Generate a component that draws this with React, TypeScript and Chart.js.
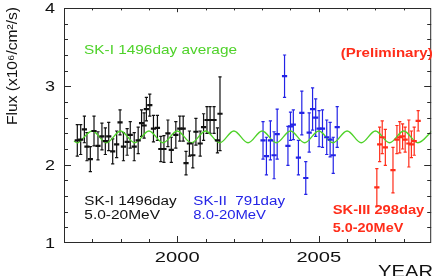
import React, { useEffect, useRef } from "react";
import { Chart, registerables } from "chart.js";

Chart.register(...registerables);

// ---------------- data ----------------
const X_MIN = 1996;
const X_MAX = 2008.97;
const Y_MIN = 1;
const Y_MAX = 4;

const sk1Years = [1996.47, 1996.59, 1996.72, 1996.81, 1996.93, 1997.06, 1997.2, 1997.34, 1997.46, 1997.58,
  1997.72, 1997.86, 1997.98, 1998.1, 1998.23, 1998.34, 1998.48, 1998.62, 1998.74, 1998.83,
  1998.91, 1999.03, 1999.16, 1999.3, 1999.42, 1999.53, 1999.67, 1999.79, 1999.95, 2000.09,
  2000.21, 2000.31, 2000.43, 2000.55, 2000.66, 2000.81, 2000.93, 2001.05, 2001.16, 2001.3,
  2001.42, 2001.51];
const sk1Flux = [2.31, 2.32, 2.45, 2.23, 2.07, 2.43, 2.24, 2.36, 2.3, 2.36,
  2.17, 2.26, 2.54, 2.23, 2.29, 2.38, 2.23, 2.31, 2.53, 2.5,
  2.71, 2.76, 2.46, 2.47, 2.2, 2.2, 2.4, 2.19, 2.38, 2.46,
  2.46, 2.02, 2.27, 2.12, 2.42, 2.27, 2.48, 2.57, 2.57, 2.57,
  2.31, 2.65];
const sk1Err = [0.2, 0.19, 0.17, 0.18, 0.16, 0.19, 0.18, 0.17, 0.17, 0.18,
  0.16, 0.17, 0.16, 0.18, 0.17, 0.17, 0.18, 0.17, 0.17, 0.16,
  0.15, 0.14, 0.17, 0.16, 0.16, 0.17, 0.17, 0.16, 0.17, 0.16,
  0.16, 0.15, 0.16, 0.16, 0.17, 0.16, 0.17, 0.17, 0.17, 0.17,
  0.16, 0.47];

const sk2Years = [2003.03, 2003.15, 2003.29, 2003.42, 2003.53, 2003.79, 2003.91, 2004.0, 2004.1, 2004.28,
  2004.4, 2004.54, 2004.66, 2004.78, 2004.89, 2005.01, 2005.13, 2005.28, 2005.4, 2005.51, 2005.65];
const sk2Flux = [2.31, 2.11, 2.31, 2.12, 2.39, 3.13, 2.24, 2.49, 2.51, 2.09,
  2.66, 1.83, 2.41, 2.71, 2.6, 2.46, 2.46, 2.35, 2.32, 2.12, 2.48];
const sk2Err = [0.24, 0.24, 0.25, 0.3, 0.32, 0.27, 0.25, 0.18, 0.19, 0.22,
  0.28, 0.21, 0.25, 0.27, 0.24, 0.23, 0.24, 0.22, 0.22, 0.23, 0.26];

const sk3Years = [2007.05, 2007.15, 2007.24, 2007.35, 2007.62, 2007.76, 2007.86, 2007.96, 2008.05, 2008.18,
  2008.27, 2008.37, 2008.51];
const sk3Flux = [1.71, 2.26, 2.35, 2.22, 1.93, 2.32, 2.35, 2.36, 2.32, 2.27, 2.26, 2.3, 2.56];
const sk3Err = [0.24, 0.22, 0.21, 0.23, 0.29, 0.18, 0.2, 0.16, 0.16, 0.3, 0.17, 0.18, 0.13];

// SK-I average with seasonal (1/r^2) variation: peaks in January, troughs in July
const avgYears = [1996.35, 1996.5, 1997, 1997.5, 1998, 1998.5, 1999, 1999.5, 2000, 2000.5,
  2001, 2001.5, 2002, 2002.5, 2003, 2003.5, 2004, 2004.5, 2005, 2005.5,
  2006, 2006.5, 2007, 2007.5, 2008, 2008.5, 2009];
const avgFlux = [2.3, 2.28, 2.43, 2.28, 2.43, 2.28, 2.43, 2.28, 2.43, 2.28,
  2.43, 2.28, 2.43, 2.28, 2.43, 2.28, 2.43, 2.28, 2.43, 2.28,
  2.43, 2.28, 2.43, 2.28, 2.43, 2.28, 2.43];

const yTickValues = [1.2, 1.4, 1.6, 1.8, 2, 2.2, 2.4, 2.6, 2.8, 3, 3.2, 3.4, 3.6, 3.8];
const yLabelValues = [1, 2, 3, 4];
const xTickYears = [1997, 1998, 1999, 2000, 2001, 2002, 2003, 2004, 2005, 2006, 2007, 2008];
const xLabelYears = [2000, 2005];

// ---------------- styles ----------------
const BLACK = "#111111";
const BLUE = "#2323e6";
const RED = "#ff2d1a";
const GREEN = "#4fd22a";
const FONT = "'Liberation Sans', Arial, Helvetica, sans-serif";

const toPoints = (xs: number[], ys: number[]) => xs.map((x, i) => ({ x, y: ys[i] }));

function fitText(ctx: CanvasRenderingContext2D, text: string, font: string, color: string,
  left: number, right: number, baseline: number) {
  ctx.save();
  ctx.font = font;
  ctx.fillStyle = color;
  ctx.textAlign = "left";
  ctx.textBaseline = "alphabetic";
  const w = ctx.measureText(text).width;
  ctx.translate(left, baseline);
  ctx.scale((right - left) / w, 1);
  ctx.fillText(text, 0, 0);
  ctx.restore();
}

function stretchText(ctx: CanvasRenderingContext2D, text: string, font: string, color: string,
  x: number, baseline: number, sx: number, align: CanvasTextAlign) {
  ctx.save();
  ctx.font = font;
  ctx.fillStyle = color;
  ctx.textAlign = align;
  ctx.textBaseline = "alphabetic";
  ctx.translate(x, baseline);
  ctx.scale(sx, 1);
  ctx.fillText(text, 0, 0);
  ctx.restore();
}

const decorPlugin = {
  id: "skDecor",
  beforeDatasetsDraw(chart: any) {
    const ctx = chart.ctx as CanvasRenderingContext2D;
    const ys = chart.scales.y;
    chart.data.datasets.forEach((ds: any, i: number) => {
      if (!ds.errors) return;
      const meta = chart.getDatasetMeta(i);
      ctx.save();
      ctx.strokeStyle = ds.borderColor;
      ctx.lineWidth = 1.2;
      meta.data.forEach((pt: any, j: number) => {
        const v = ds.data[j].y;
        const e = ds.errors[j];
        const y1 = ys.getPixelForValue(v + e);
        const y2 = ys.getPixelForValue(v - e);
        const x = pt.x;
        ctx.beginPath();
        ctx.moveTo(x, y1);
        ctx.lineTo(x, y2);
        ctx.moveTo(x - 1.6, y1);
        ctx.lineTo(x + 1.6, y1);
        ctx.moveTo(x - 1.6, y2);
        ctx.lineTo(x + 1.6, y2);
        ctx.stroke();
      });
      ctx.restore();
    });
  },
  afterDraw(chart: any) {
    const ctx = chart.ctx as CanvasRenderingContext2D;
    const { left, right, top, bottom } = chart.chartArea;
    const xs = chart.scales.x;
    const ys = chart.scales.y;

    // frame
    ctx.save();
    ctx.strokeStyle = "#2a2a2a";
    ctx.lineWidth = 1;
    ctx.strokeRect(left + 0.5, top + 0.5, right - left - 1, bottom - top - 1);

    // y ticks (inward, both sides)
    const drawY = (v: number, len: number) => {
      const y = Math.round(ys.getPixelForValue(v)) + 0.5;
      ctx.beginPath();
      ctx.moveTo(left, y);
      ctx.lineTo(left + len, y);
      ctx.moveTo(right, y);
      ctx.lineTo(right - len, y);
      ctx.stroke();
    };
    yTickValues.forEach((v) => drawY(v, yLabelValues.includes(v) ? 7 : 4));
    // x ticks (inward, bottom and top)
    xTickYears.forEach((yr) => {
      const len = xLabelYears.includes(yr) ? 7 : 4;
      const x = Math.round(xs.getPixelForValue(yr)) + 0.5;
      ctx.beginPath();
      ctx.moveTo(x, bottom);
      ctx.lineTo(x, bottom - len);
      ctx.moveTo(x, top);
      ctx.lineTo(x, top + len * 0.6);
      ctx.stroke();
    });
    ctx.restore();

    // tick labels
    yLabelValues.forEach((v) => {
      stretchText(ctx, String(v), `15px ${FONT}`, BLACK, left - 9, ys.getPixelForValue(v) + 5, 1.2, "right");
    });
    xLabelYears.forEach((yr) => {
      stretchText(ctx, String(yr), `15.5px ${FONT}`, BLACK, xs.getPixelForValue(yr), 262, 1.3, "center");
    });
    fitText(ctx, "YEAR", `16px ${FONT}`, BLACK, 378, 433, 276.5);

    // y axis title (rotated)
    ctx.save();
    ctx.font = `14.5px ${FONT}`;
    ctx.fillStyle = BLACK;
    const title = "Flux (x10\u2076/cm\u00B2/s)";
    const tw = ctx.measureText(title).width;
    ctx.translate(16.5, 125);
    ctx.rotate(-Math.PI / 2);
    ctx.scale(118 / tw, 1);
    ctx.fillText(title, 0, 0);
    ctx.restore();

    // annotations
    fitText(ctx, "SK-I 1496day average", `13px ${FONT}`, GREEN, 84, 237, 54.3);
    fitText(ctx, "(Preliminary)", `bold 13px ${FONT}`, RED, 340.7, 432.7, 56.5);
    fitText(ctx, "SK-I 1496day", `12.5px ${FONT}`, BLACK, 84.3, 176.7, 205);
    fitText(ctx, "5.0-20MeV", `12.5px ${FONT}`, BLACK, 84.3, 160, 218.5);
    fitText(ctx, "SK-II  791day", `12.5px ${FONT}`, BLUE, 193.3, 285, 205);
    fitText(ctx, "8.0-20MeV", `12.5px ${FONT}`, BLUE, 193.3, 266, 218.5);
    fitText(ctx, "SK-III 298day", `bold 12.5px ${FONT}`, RED, 332.7, 424.3, 214);
    fitText(ctx, "5.0-20MeV", `bold 12.5px ${FONT}`, RED, 332.7, 403.3, 231.7);
  },
};

export default function App() {
  const canvasRef = useRef<HTMLCanvasElement | null>(null);

  useEffect(() => {
    const canvas = canvasRef.current;
    if (!canvas) return;
    const pointDs = (label: string, xs: number[], ys: number[], errs: number[], color: string) => ({
      type: "scatter" as const,
      label,
      data: toPoints(xs, ys),
      errors: errs,
      borderColor: color,
      backgroundColor: color,
      pointStyle: "line",
      pointRadius: 2.6,
      pointBorderWidth: 2.2,
      pointHoverRadius: 2.6,
      showLine: false,
    });
    const chart = new Chart(canvas, {
      type: "scatter",
      data: {
        datasets: [
          pointDs("SK-I", sk1Years, sk1Flux, sk1Err, BLACK) as any,
          pointDs("SK-II", sk2Years, sk2Flux, sk2Err, BLUE) as any,
          pointDs("SK-III", sk3Years, sk3Flux, sk3Err, RED) as any,
          {
            type: "line",
            label: "SK-I average",
            data: toPoints(avgYears, avgFlux),
            borderColor: GREEN,
            borderWidth: 1.3,
            pointRadius: 0,
            tension: 0.36,
            fill: false,
          } as any,
        ],
      },
      options: {
        animation: false,
        responsive: false,
        devicePixelRatio: 1,
        events: [],
        layout: { padding: { left: 0, right: 1, top: 8, bottom: 0 } },
        plugins: { legend: { display: false }, tooltip: { enabled: false }, title: { display: false } },
        scales: {
          x: {
            type: "linear",
            min: X_MIN,
            max: X_MAX,
            grid: { display: false },
            border: { display: false },
            ticks: { display: false },
            afterFit: (s: any) => { s.height = 33; },
          },
          y: {
            type: "linear",
            min: Y_MIN,
            max: Y_MAX,
            grid: { display: false },
            border: { display: false },
            ticks: { display: false },
            afterFit: (s: any) => { s.width = 64; },
          },
        },
      } as any,
      plugins: [decorPlugin],
    });
    return () => chart.destroy();
  }, []);

  return (
    <div style={{ position: "fixed", left: 0, top: 0, width: 436, height: 276, background: "#fff" }}>
      <canvas ref={canvasRef} width={436} height={276} style={{ width: 436, height: 276, display: "block" }} />
    </div>
  );
}
